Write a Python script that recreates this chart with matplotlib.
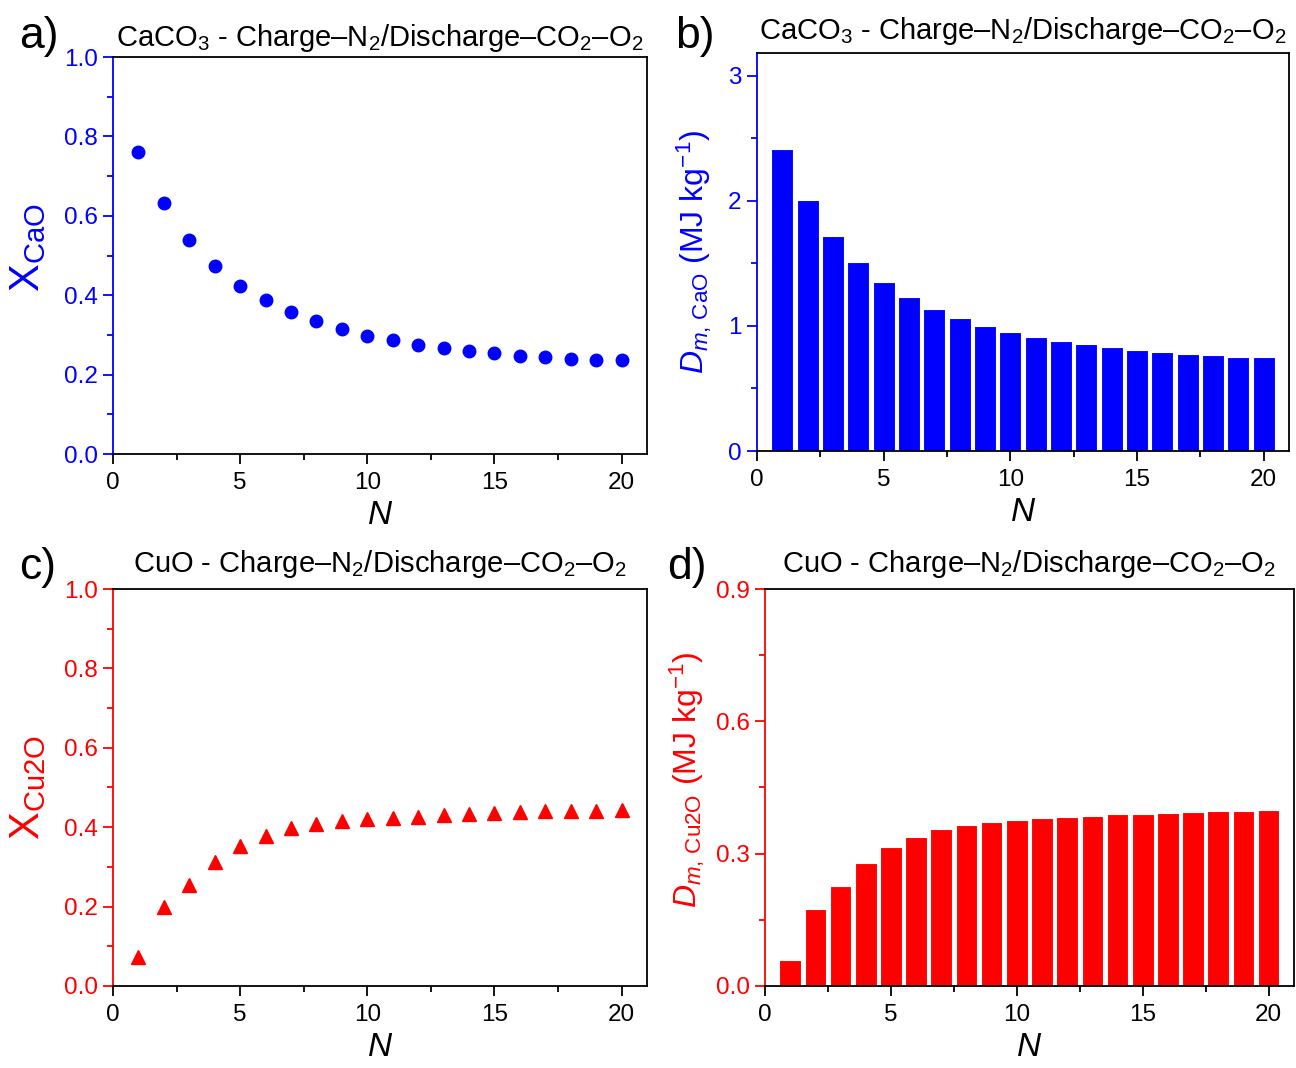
import matplotlib
matplotlib.use("Agg")
import matplotlib.pyplot as plt
from matplotlib.ticker import MultipleLocator
import numpy as np

plt.rcParams['font.family'] = ['Liberation Sans', 'DejaVu Sans']
plt.rcParams['mathtext.fontset'] = 'custom'
plt.rcParams['mathtext.rm'] = 'Liberation Sans'
plt.rcParams['mathtext.it'] = 'Liberation Sans:italic'
plt.rcParams['mathtext.bf'] = 'Liberation Sans:bold'

BLUE = "#0000ff"
RED = "#ff0000"

# cycle number
N = np.arange(1, 21)

# conversion of CaO (panel a)
x_cao = [0.760, 0.632, 0.540, 0.474, 0.424, 0.387, 0.357, 0.334, 0.314, 0.298,
         0.286, 0.275, 0.266, 0.260, 0.254, 0.248, 0.244, 0.239, 0.236, 0.236]
# energy density CaO (panel b)
d_cao = [2.415, 2.008, 1.718, 1.507, 1.353, 1.230, 1.137, 1.063, 1.001, 0.953,
         0.913, 0.879, 0.852, 0.828, 0.810, 0.794, 0.778, 0.764, 0.754, 0.754]
# conversion of Cu2O (panel c)
x_cu2o = [0.072, 0.198, 0.255, 0.312, 0.353, 0.378, 0.397, 0.409, 0.415, 0.420,
          0.423, 0.425, 0.430, 0.434, 0.435, 0.438, 0.440, 0.441, 0.442, 0.444]
# energy density Cu2O (panel d)
d_cu2o = [0.060, 0.174, 0.226, 0.279, 0.316, 0.338, 0.355, 0.366, 0.371, 0.376,
          0.380, 0.383, 0.385, 0.390, 0.390, 0.393, 0.394, 0.396, 0.397, 0.398]

title_ca = "CaCO$_3$ - Charge–N$_2$/Discharge–CO$_2$–O$_2$"
title_cu = "CuO - Charge–N$_2$/Discharge–CO$_2$–O$_2$"

fig = plt.figure(figsize=(12.96, 10.68), dpi=100)
ax_a = fig.add_axes([0.0872, 0.5749, 0.412, 0.3717])
ax_b = fig.add_axes([0.5841, 0.5777, 0.4105, 0.3727])
ax_c = fig.add_axes([0.0872, 0.0768, 0.412, 0.3717])
ax_d = fig.add_axes([0.5903, 0.0768, 0.408, 0.3717])


def style_axes(ax, color, ymax, ymajor, yminor, yfmt):
    ax.set_xlim(0, 21)
    ax.set_ylim(0, ymax)
    ax.xaxis.set_major_locator(MultipleLocator(5))
    ax.xaxis.set_minor_locator(MultipleLocator(2.5))
    ax.yaxis.set_major_locator(MultipleLocator(ymajor))
    ax.yaxis.set_minor_locator(MultipleLocator(yminor))
    ax.yaxis.set_major_formatter(plt.FormatStrFormatter(yfmt))
    for s in ['top', 'right', 'bottom']:
        ax.spines[s].set_color('black')
        ax.spines[s].set_linewidth(1.3)
    ax.spines['left'].set_color(color)
    ax.spines['left'].set_linewidth(1.3)
    ax.tick_params(axis='x', which='major', direction='out', length=7, width=1.3,
                   labelsize=17.5, colors='black', pad=6)
    ax.tick_params(axis='x', which='minor', direction='out', length=4, width=1.3)
    ax.tick_params(axis='y', which='major', direction='out', length=7, width=1.3,
                   labelsize=17.5, colors=color, pad=4)
    ax.tick_params(axis='y', which='minor', direction='out', length=4, width=1.3,
                   colors=color)
    ax.set_xlabel("$N$", fontsize=24, labelpad=4)


# a) CaO conversion
ax_a.plot(N, x_cao, 'o', color=BLUE, ms=9, ls='none')
style_axes(ax_a, BLUE, 1.0, 0.2, 0.1, '%.1f')
ax_a.set_ylabel("X$_{\\mathrm{CaO}}$", fontsize=30, color=BLUE)
ax_a.yaxis.set_label_coords(-0.122, 0.52)

# b) CaO energy density
ax_b.bar(N, d_cao, width=0.86, color=BLUE, edgecolor='white', linewidth=0.8)
style_axes(ax_b, BLUE, 3.18, 1, 0.5, '%d')
ax_b.set_ylabel("$D_{m,\\,\\mathrm{CaO}}$ (MJ kg$^{-1}$)", fontsize=23, color=BLUE)
ax_b.yaxis.set_label_coords(-0.08, 0.5)

# c) Cu2O conversion
ax_c.plot(N, x_cu2o, '^', color=RED, ms=10, ls='none')
style_axes(ax_c, RED, 1.0, 0.2, 0.1, '%.1f')
ax_c.set_ylabel("X$_{\\mathrm{Cu2O}}$", fontsize=30, color=RED)
ax_c.yaxis.set_label_coords(-0.122, 0.5)

# d) Cu2O energy density
ax_d.bar(N, d_cu2o, width=0.86, color=RED, edgecolor='white', linewidth=0.8)
style_axes(ax_d, RED, 0.9, 0.3, 0.15, '%.1f')
ax_d.set_ylabel("$D_{m,\\,\\mathrm{Cu2O}}$ (MJ kg$^{-1}$)", fontsize=23, color=RED)
ax_d.yaxis.set_label_coords(-0.11, 0.52)

ax_a.set_title(title_ca, fontsize=21, pad=8)
ax_b.set_title(title_ca, fontsize=21, pad=10)
ax_c.set_title(title_cu, fontsize=21, pad=12)
ax_d.set_title(title_cu, fontsize=21, pad=12)

fig.text(0.015, 0.955, "a)", fontsize=32)
fig.text(0.521, 0.955, "b)", fontsize=32)
fig.text(0.015, 0.458, "c)", fontsize=32)
fig.text(0.515, 0.458, "d)", fontsize=32)

fig.savefig("out.png", dpi=100)
